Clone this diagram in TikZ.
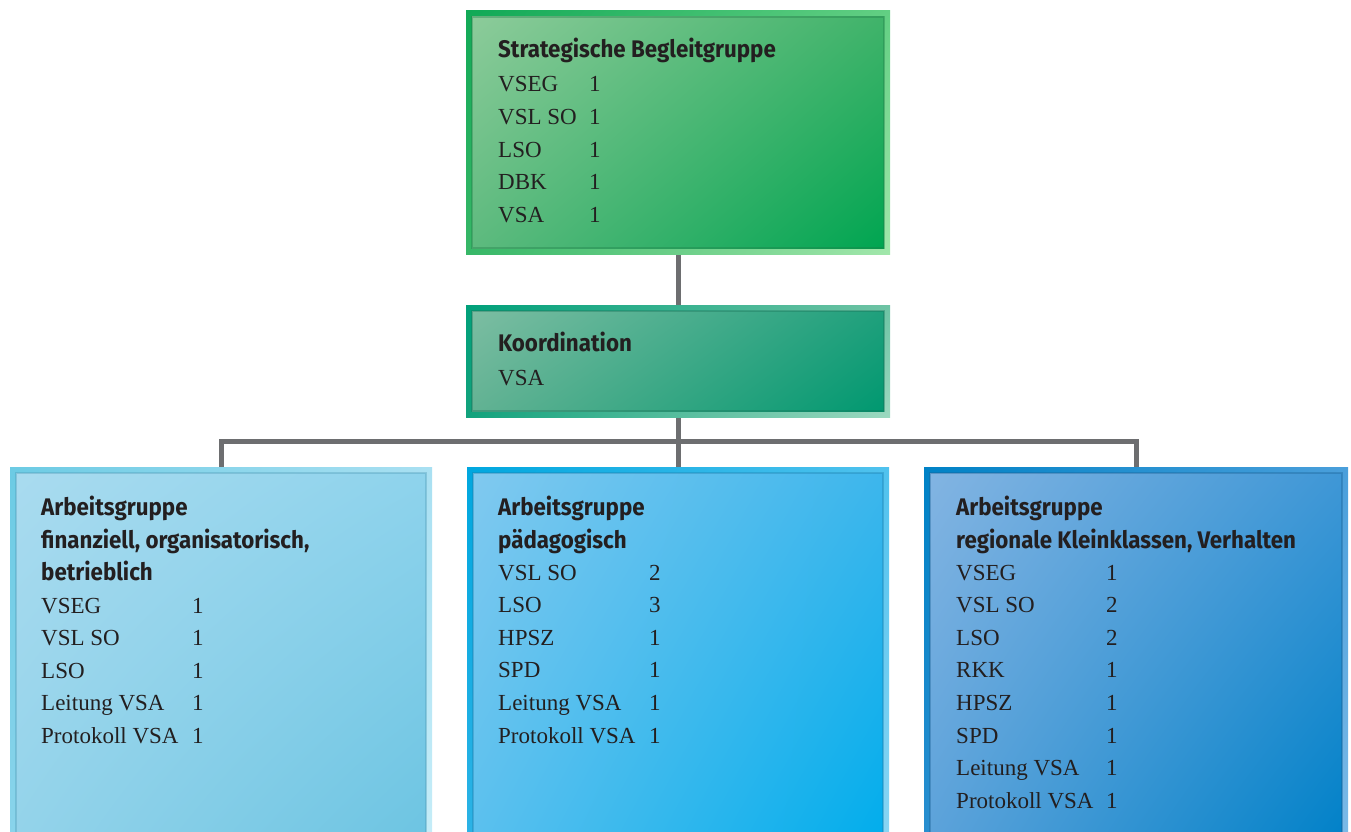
\documentclass[tikz,border=0pt]{standalone}
\usepackage{fontspec}
\setmainfont{Liberation Serif}
\newfontfamily\titlefont[FakeStretch=0.93]{Fira Sans}
\usetikzlibrary{backgrounds,shadings}
\definecolor{txtc}{HTML}{231F20}
\definecolor{linec}{HTML}{6D6E70}
% top box
\definecolor{aUL}{HTML}{11A956}\definecolor{aUR}{HTML}{62CF83}\definecolor{aLL}{HTML}{37B767}\definecolor{aLR}{HTML}{A2E7AB}
\definecolor{aiUL}{HTML}{8CCB9A}\definecolor{aiUR}{HTML}{40B36A}\definecolor{aiLL}{HTML}{5DBA7E}\definecolor{aiLR}{HTML}{00A551}\definecolor{aiD}{HTML}{1E7A45}
% koord
\definecolor{bUL}{HTML}{00A07A}\definecolor{bUR}{HTML}{6EC3A4}\definecolor{bLL}{HTML}{12A27C}\definecolor{bLR}{HTML}{9CD9C0}
\definecolor{biUL}{HTML}{7CBDA2}\definecolor{biUR}{HTML}{1FA07C}\definecolor{biLL}{HTML}{62B293}\definecolor{biLR}{HTML}{009870}\definecolor{biD}{HTML}{176E55}
% ag1
\definecolor{cUL}{HTML}{6CCBE4}\definecolor{cUR}{HTML}{A9E0F2}\definecolor{cLL}{HTML}{8AD4EB}\definecolor{cLR}{HTML}{C6EDF8}
\definecolor{ciUL}{HTML}{A9DBEF}\definecolor{ciUR}{HTML}{8ED3EC}\definecolor{ciLL}{HTML}{93D3EA}\definecolor{ciLR}{HTML}{6CC4E2}\definecolor{ciD}{HTML}{4A97B3}
% ag2
\definecolor{dUL}{HTML}{00A7DF}\definecolor{dUR}{HTML}{50C2EE}\definecolor{dLL}{HTML}{2DB3E6}\definecolor{dLR}{HTML}{8AD6F4}
\definecolor{diUL}{HTML}{80C9EF}\definecolor{diUR}{HTML}{3DB6EC}\definecolor{diLL}{HTML}{5AC0EE}\definecolor{diLR}{HTML}{00ADEC}\definecolor{diD}{HTML}{1A7CAA}
% ag3
\definecolor{eUL}{HTML}{0082C6}\definecolor{eUR}{HTML}{4A9FDB}\definecolor{eLL}{HTML}{2A8FD0}\definecolor{eLR}{HTML}{7DBBE8}
\definecolor{eiUL}{HTML}{82B4E2}\definecolor{eiUR}{HTML}{3F97D6}\definecolor{eiLL}{HTML}{5BA2DA}\definecolor{eiLR}{HTML}{0081C8}\definecolor{eiD}{HTML}{175E92}
\tikzset{
  boxnode/.style={rectangle, inner sep=0pt, outer sep=0pt},
  frame/.style={boxnode, upper left=#1UL, upper right=#1UR, lower left=#1LL, lower right=#1LR},
  fillbox/.style={boxnode, draw=#1D, draw opacity=0.35, line width=2pt, upper left=#1UL, upper right=#1UR, lower left=#1LL, lower right=#1LR},
  ttl/.style={anchor=base west, inner sep=0pt, font=\titlefont\bfseries\fontsize{24}{28}\selectfont, text=txtc},
  txt/.style={anchor=base west, inner sep=0pt, font=\fontsize{23}{27}\selectfont, text=txtc},
  conn/.style={draw=linec, line width=5pt}
}
\begin{document}
\begin{tikzpicture}[x=1pt,y=-1pt]
\useasboundingbox (0,0) rectangle (1351,832);
\clip (0,0) rectangle (1351,832);
% ---------- Strategische Begleitgruppe
\node[frame=a, minimum width=424pt, minimum height=243pt] (sbg) at (678,132.5) {};
\node[fillbox=ai, minimum width=412pt, minimum height=231pt] (sbgi) at (sbg) {};
% ---------- Koordination
\node[frame=b, minimum width=424pt, minimum height=112pt] (koord) at (678,361) {};
\node[fillbox=bi, minimum width=412pt, minimum height=100pt] (koordi) at (koord) {};
% ---------- AG 1
\node[frame=c, minimum width=422pt, minimum height=383pt] (ag1) at (221,658.5) {};
\node[fillbox=ci, minimum width=410pt, minimum height=371pt] (ag1i) at (ag1) {};
% ---------- AG 2
\node[frame=d, minimum width=422pt, minimum height=383pt] (ag2) at (678,658.5) {};
\node[fillbox=di, minimum width=410pt, minimum height=371pt] (ag2i) at (ag2) {};
% ---------- AG 3
\node[frame=e, minimum width=424pt, minimum height=383pt] (ag3) at (1136,658.5) {};
\node[fillbox=ei, minimum width=412pt, minimum height=371pt] (ag3i) at (ag3) {};
% ---------- connectors
\begin{scope}[on background layer]
\coordinate (bus) at (678,441);
\draw[conn] (sbg.south) -- (koord.north);
\draw[conn] (koord.south) -- (bus);
\draw[conn] (bus) -- (ag2.north);
\draw[conn] (ag1.north) |- (bus) -| (ag3.north);
\end{scope}
% ---------- texts
\node[ttl] (t1) at (498,58) {Strategische Begleitgruppe};
\foreach \a/\b [count=\i from 0] in {VSEG/1,VSL SO/1,LSO/1,DBK/1,VSA/1}{
  \node[txt] (t1a\i) at (498,92+32.6*\i) {\a};
  \node[txt] (t1b\i) at (589,92+32.6*\i) {\b};
}
\node[ttl] (t2) at (498,351) {Koordination};
\node[txt] (t2a) at (498,385) {VSA};
% AG1
\node[ttl] (t3a) at (41,515) {Arbeitsgruppe};
\node[ttl] (t3b) at (41,548) {finanziell, organisatorisch,};
\node[ttl] (t3c) at (41,580) {betrieblich};
\foreach \a/\b [count=\i from 0] in {VSEG/1,VSL SO/1,LSO/1,Leitung VSA/1,Protokoll VSA/1}{
  \node[txt] (t3x\i) at (41,613+32.6*\i) {\a};
  \node[txt] (t3y\i) at (192,613+32.6*\i) {\b};
}
% AG2
\node[ttl] (t4a) at (498,515) {Arbeitsgruppe};
\node[ttl] (t4b) at (498,548) {pädagogisch};
\foreach \a/\b [count=\i from 0] in {VSL SO/2,LSO/3,HPSZ/1,SPD/1,Leitung VSA/1,Protokoll VSA/1}{
  \node[txt] (t4x\i) at (498,580+32.6*\i) {\a};
  \node[txt] (t4y\i) at (649,580+32.6*\i) {\b};
}
% AG3
\node[ttl] (t5a) at (956,515) {Arbeitsgruppe};
\node[ttl] (t5b) at (956,548) {regionale Kleinklassen, Verhalten};
\foreach \a/\b [count=\i from 0] in {VSEG/1,VSL SO/2,LSO/2,RKK/1,HPSZ/1,SPD/1,Leitung VSA/1,Protokoll VSA/1}{
  \node[txt] (t5x\i) at (956,580+32.6*\i) {\a};
  \node[txt] (t5y\i) at (1106,580+32.6*\i) {\b};
}
\end{tikzpicture}
\end{document}
